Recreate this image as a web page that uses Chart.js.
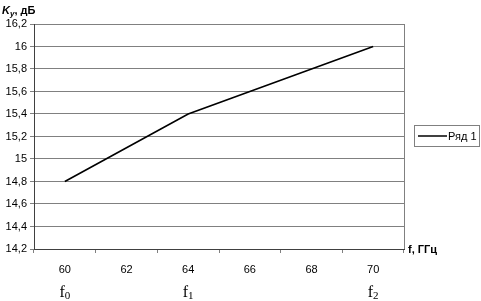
<!DOCTYPE html>
<html><head><meta charset="utf-8">
<script src="https://cdn.jsdelivr.net/npm/chart.js@4/dist/chart.umd.min.js"></script>
<style>html,body{margin:0;padding:0;background:#fff}#wrap{width:481px;height:301px;position:relative}</style>
</head><body><div id="wrap"><canvas id="c" width="481" height="301"></canvas></div>
<script>
const categories = ["60","62","64","66","68","70"];
const seriesName = "Ряд 1";
const values = [14.8, 15.1, 15.4, 15.6, 15.8, 16.0];
const yTicks = [14.2,14.4,14.6,14.8,15,15.2,15.4,15.6,15.8,16,16.2];
const freqMarks = [{cat:"60",sub:"0"},{cat:"64",sub:"1"},{cat:"70",sub:"2"}];
const yTitle = ["K","у",", дБ"];
const xTitle = "f, ГГц";

const FONT = "'Liberation Sans', Arial, sans-serif";
const extras = {
  id:'extras',
  afterDraw(chart){
    const ctx = chart.ctx, a = chart.chartArea, xs = chart.scales.x;
    ctx.save();
    // right border of plot
    ctx.strokeStyle = '#808080'; ctx.lineWidth = 1;
    ctx.beginPath(); ctx.moveTo(Math.round(a.right)+0.5, a.top); ctx.lineTo(Math.round(a.right)+0.5, a.bottom); ctx.stroke();
    // y title
    ctx.fillStyle = '#000'; ctx.textBaseline = 'alphabetic'; ctx.textAlign='left';
    ctx.font = "italic bold 11px " + FONT;
    ctx.fillText(yTitle[0], 2, 14);
    let w = ctx.measureText(yTitle[0]).width;
    ctx.font = "italic bold 8px " + FONT;
    ctx.fillText(yTitle[1], 2 + w, 16);
    w += ctx.measureText(yTitle[1]).width;
    ctx.font = "bold 11px " + FONT;
    ctx.fillText(yTitle[2], 2 + w, 14);
    // x title
    ctx.font = "bold 11px " + FONT;
    ctx.fillText(xTitle, a.right + 4, a.bottom + 4);
    // f marks
    freqMarks.forEach(m=>{
      const x = xs.getPixelForValue(categories.indexOf(m.cat));
      ctx.font = "16px 'Liberation Serif', 'Times New Roman', serif";
      const fw = ctx.measureText("f").width;
      ctx.font = "11px 'Liberation Serif', 'Times New Roman', serif";
      const sw = ctx.measureText(m.sub).width;
      const x0 = x - (fw+sw)/2;
      ctx.font = "16px 'Liberation Serif', 'Times New Roman', serif";
      ctx.fillText("f", x0, 297);
      ctx.font = "11px 'Liberation Serif', 'Times New Roman', serif";
      ctx.fillText(m.sub, x0 + fw, 299);
    });
    // legend
    const lx = 414.5, ly = 125.5, lw = 65, lh = 21;
    ctx.fillStyle = '#fff'; ctx.fillRect(lx, ly, lw, lh);
    ctx.strokeStyle = '#808080'; ctx.strokeRect(lx, ly, lw, lh);
    ctx.strokeStyle = '#000'; ctx.lineWidth = 1.5;
    ctx.beginPath(); ctx.moveTo(418, 136); ctx.lineTo(447, 136); ctx.stroke();
    ctx.fillStyle = '#000'; ctx.font = "11px " + FONT; ctx.textBaseline='middle';
    ctx.fillText(chart.data.datasets[0].label, 448, 136.5);
    ctx.restore();
  }
};

new Chart(document.getElementById('c'), {
  type:'line',
  data:{labels:categories, datasets:[{label:seriesName, data:values, borderColor:'#000', borderWidth:1.6, pointRadius:0, tension:0, fill:false}]},
  options:{
    responsive:false, animation:false, devicePixelRatio:1,
    layout:{padding:{top:24,right:77,left:0,bottom:0}},
    plugins:{legend:{display:false}, tooltip:{enabled:false}},
    scales:{
      x:{type:'category', offset:true,
        grid:{offset:true, drawOnChartArea:false, drawTicks:true, tickLength:4, color:'#808080'},
        border:{color:'#404040', width:1},
        ticks:{font:{family:FONT,size:11}, color:'#000', padding:10, maxRotation:0},
        afterFit(s){s.height = 52;}
      },
      y:{min:14.2, max:16.2,
        afterBuildTicks(s){ s.ticks = yTicks.map(v=>({value:v})); },
        grid:{color:'#808080', tickLength:4, drawTicks:true},
        border:{color:'#404040', width:1},
        ticks:{font:{family:FONT,size:11}, color:'#000', padding:3,
          callback:(v)=> String(Math.round(v*10)/10).replace('.',',')},
        afterFit(s){s.width = 34;}
      }
    }
  },
  plugins:[extras]
});
</script></body></html>
